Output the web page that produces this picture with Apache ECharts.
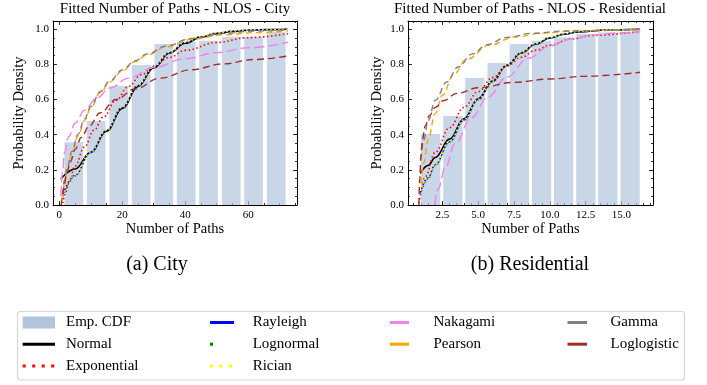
<!DOCTYPE html>
<html>
<head>
<meta charset="utf-8">
<script src="https://cdn.jsdelivr.net/npm/echarts@6/dist/echarts.min.js"></script>
<style>
  html, body { margin: 0; padding: 0; background: #fff; }
  #chart { width: 707px; height: 385px; }
</style>
</head>
<body>
<div id="chart"></div>
<script>
// ---------------- data ----------------
// Empirical CDF (histogram bins) for each environment
const cityBinCenters = [4.6, 11.7, 18.9, 26.0, 33.2, 40.3, 47.4, 54.6, 61.7, 68.9];
const cityEmpCdf     = [0.357, 0.478, 0.677, 0.797, 0.916, 0.928, 0.935, 0.958, 0.958, 0.985];
const resBinCenters  = [1.68, 3.23, 4.77, 6.32, 7.87, 9.42, 10.96, 12.51, 14.05, 15.6];
const resEmpCdf      = [0.404, 0.507, 0.723, 0.808, 0.916, 0.935, 0.955, 0.973, 0.981, 0.986];

// Fitted CDF curves, City  ([number of paths, probability])
const cityNormal = [[0.5,0.148],[5,0.205],[10,0.3],[15,0.42],[20,0.55],[25,0.675],[30,0.78],[35,0.865],[40,0.92],[45,0.955],[50,0.975],[55,0.987],[60,0.994],[65,0.998],[72.6,1.0]];
const cityExponential = [[1.1,0.01],[2,0.07],[3,0.125],[5,0.222],[8,0.33],[11,0.425],[14,0.5],[18,0.595],[22,0.675],[26,0.74],[30,0.79],[35,0.84],[40,0.88],[50,0.925],[60,0.952],[72.6,0.975]];
const cityRayleigh = [[1.2,0.065],[5,0.17],[10,0.3],[15,0.425],[20,0.555],[25,0.68],[30,0.785],[35,0.868],[40,0.925],[45,0.958],[50,0.978],[55,0.99],[60,0.996],[72.6,1.0]];
const cityLognormal = [[1.2,0.05],[5,0.165],[10,0.298],[15,0.423],[20,0.553],[25,0.678],[30,0.783],[35,0.866],[40,0.923],[45,0.956],[50,0.976],[55,0.988],[60,0.994],[72.6,0.999]];
const cityRician = [[1.2,0.075],[5,0.175],[10,0.302],[15,0.427],[20,0.557],[25,0.682],[30,0.787],[35,0.87],[40,0.927],[45,0.96],[50,0.98],[55,0.991],[60,0.997],[72.6,1.0]];
const cityNakagami = [[0.5,0.05],[1.0,0.19],[1.7,0.3],[3,0.39],[5,0.465],[8,0.54],[12,0.61],[16,0.665],[22,0.722],[30,0.782],[40,0.833],[50,0.867],[60,0.895],[72.6,0.926]];
const cityPearson = [[1.0,0.04],[1.6,0.12],[2.5,0.2],[4,0.295],[6,0.395],[8,0.48],[10,0.552],[13,0.64],[16,0.7],[20,0.763],[24,0.815],[28,0.855],[34,0.9],[42,0.943],[52,0.968],[62,0.981],[72.6,0.99]];
const cityGamma = [[1.0,0.06],[1.6,0.14],[2.5,0.215],[4,0.305],[6,0.405],[8,0.49],[10,0.56],[13,0.645],[16,0.705],[20,0.768],[24,0.82],[28,0.86],[34,0.905],[42,0.948],[52,0.975],[62,0.99],[72.6,0.997]];
const cityLoglogistic = [[0.6,0.0],[1.0,0.04],[1.5,0.1],[2.2,0.165],[3.5,0.245],[5,0.315],[7,0.385],[9.5,0.45],[13,0.525],[18,0.6],[24,0.66],[32,0.722],[42,0.77],[52,0.803],[62,0.828],[72.6,0.848]];

// Fitted CDF curves, Residential
const resNormal = [[0.96,0.18],[1.5,0.225],[2,0.27],[3,0.375],[4,0.49],[5,0.605],[6,0.705],[7,0.795],[8,0.865],[9,0.915],[10,0.95],[11,0.972],[12,0.985],[14,0.996],[16.3,1.0]];
const resExponential = [[0.88,0.01],[1.3,0.16],[2,0.3],[3,0.44],[4,0.555],[5,0.645],[6,0.725],[7,0.79],[8,0.84],[9,0.88],[10,0.91],[11.5,0.945],[13,0.965],[16.3,0.988]];
const resRayleigh = [[0.96,0.07],[1.5,0.155],[2,0.23],[3,0.36],[4,0.483],[5,0.6],[6,0.703],[7,0.795],[8,0.867],[9,0.917],[10,0.952],[11,0.974],[12,0.987],[14,0.997],[16.3,1.0]];
const resLognormal = [[0.96,0.06],[1.5,0.148],[2,0.225],[3,0.357],[4,0.48],[5,0.598],[6,0.701],[7,0.793],[8,0.865],[9,0.915],[10,0.951],[11,0.973],[12,0.986],[14,0.996],[16.3,0.999]];
const resRician = [[0.96,0.08],[1.5,0.162],[2,0.235],[3,0.363],[4,0.486],[5,0.602],[6,0.705],[7,0.797],[8,0.869],[9,0.919],[10,0.954],[11,0.975],[12,0.988],[14,0.997],[16.3,1.0]];
const resNakagami = [[1.96,0.0],[2.2,0.09],[2.7,0.215],[3.4,0.35],[4.5,0.495],[5.7,0.615],[7,0.728],[8.5,0.835],[10,0.905],[11.5,0.945],[13,0.967],[14.5,0.978],[16.3,0.986]];
const resPearson = [[1.0,0.12],[1.2,0.24],[1.5,0.37],[2,0.52],[2.5,0.625],[3.3,0.745],[4.2,0.83],[5.8,0.91],[7.5,0.955],[9.5,0.978],[12,0.992],[16.3,1.0]];
const resGamma = [[1.0,0.26],[1.2,0.37],[1.5,0.48],[2,0.595],[2.8,0.7],[3.6,0.785],[4.6,0.86],[5.6,0.912],[7,0.954],[8.8,0.977],[11,0.99],[16.3,0.998]];
const resLoglogistic = [[0.86,0.0],[0.92,0.15],[1.0,0.28],[1.1,0.37],[1.3,0.45],[1.6,0.51],[2,0.555],[2.6,0.595],[3.5,0.635],[5,0.667],[7.5,0.698],[10,0.717],[12.5,0.733],[16.3,0.755]];

// Axis ticks
const cityXTicks = [0, 20, 40, 60];
const cityXMinorTicks = [0, 5, 10, 15, 20, 25, 30, 35, 40, 45, 50, 55, 60, 65, 70, 75];
const resXTicks = [2.5, 5.0, 7.5, 10.0, 12.5, 15.0];
const resXMinorTicks = [0.5, 1, 1.5, 2, 2.5, 3, 3.5, 4, 4.5, 5, 5.5, 6, 6.5, 7, 7.5, 8, 8.5, 9, 9.5, 10, 10.5, 11, 11.5, 12, 12.5, 13, 13.5, 14, 14.5, 15, 15.5, 16, 16.5, 17];
const yTicks = [0, 0.2, 0.4, 0.6, 0.8, 1.0];
const yMinorTicks = [0, 0.05, 0.1, 0.15, 0.2, 0.25, 0.3, 0.35, 0.4, 0.45, 0.5, 0.55, 0.6, 0.65, 0.7, 0.75, 0.8, 0.85, 0.9, 0.95, 1.0];

const fitNames = ['Normal', 'Exponential', 'Rayleigh', 'Lognormal', 'Rician', 'Nakagami', 'Pearson', 'Gamma', 'Loglogistic'];
const cityFits = [cityNormal, cityExponential, cityRayleigh, cityLognormal, cityRician, cityNakagami, cityPearson, cityGamma, cityLoglogistic];
const resFits  = [resNormal, resExponential, resRayleigh, resLognormal, resRician, resNakagami, resPearson, resGamma, resLoglogistic];

// Legend columns (top to bottom)
const legendColumns = [
  ['Emp. CDF', 'Normal', 'Exponential'],
  ['Rayleigh', 'Lognormal', 'Rician'],
  ['Nakagami', 'Pearson'],
  ['Gamma', 'Loglogistic']
];

// ---------------- styling ----------------
const FONT = "'Liberation Serif', 'Times New Roman', serif";
const BAR_COLOR = 'rgba(176,196,222,0.7)';
const fitStyles = {
  Normal:      { color: '#000000', width: 1.6, type: 'solid' },
  Exponential: { color: '#ff0000', width: 1.6, type: [1.5, 2.5] },
  Rayleigh:    { color: '#0000ff', width: 1.5, type: [2, 2] },
  Lognormal:   { color: '#008000', width: 1.4, type: [1, 3] },
  Rician:      { color: '#ffff00', width: 1.6, type: [1.5, 2.5] },
  Nakagami:    { color: '#ee82ee', width: 1.4, type: [10, 4] },
  Pearson:     { color: '#ffa500', width: 1.4, type: [6, 4] },
  Gamma:       { color: '#808080', width: 1.4, type: [6, 4] },
  Loglogistic: { color: '#a52a2a', width: 1.4, type: [7, 4] }
};

const panels = [
  { grid: { left: 53, right: 410, top: 21, bottom: 180 }, xMin: -2, xMax: 75.5,
    xTicks: cityXTicks, xMinor: cityXMinorTicks, xFmt: v => String(v), yNameGap: 26,
    bins: cityBinCenters, emp: cityEmpCdf, barWidth: 18.7, fits: cityFits },
  { grid: { left: 408, right: 54, top: 21, bottom: 180 }, xMin: 0.1, xMax: 17.2,
    xTicks: resXTicks, xMinor: resXMinorTicks, xFmt: v => v.toFixed(1), yNameGap: 23,
    bins: resBinCenters, emp: resEmpCdf, barWidth: 19.3, fits: resFits }
];

const Y_MIN = 0, Y_MAX = 1.047;
const black = '#000';

const xAxes = [], yAxes = [], series = [];

// tick-only axis used for the frame's top/right sides and the minor ticks
function tickAxis(gridIndex, position, min, max, values, len, showLine) {
  return {
    type: 'value', gridIndex, position, min, max,
    axisLine: { show: showLine, onZero: false, lineStyle: { color: black, width: 1 } },
    axisTick: { show: true, inside: true, length: len, customValues: values, lineStyle: { color: black, width: 0.8 } },
    axisLabel: { show: false },
    splitLine: { show: false },
    minorTick: { show: false }
  };
}

panels.forEach((p, g) => {
  const xBase = xAxes.length, yBase = yAxes.length;
  xAxes.push({
    type: 'value', gridIndex: g, position: 'bottom', min: p.xMin, max: p.xMax,
    name: 'Number of Paths', nameLocation: 'middle', nameGap: 17,
    nameTextStyle: { fontFamily: FONT, fontSize: 14.5, color: black },
    axisLine: { show: true, onZero: false, lineStyle: { color: black, width: 1 } },
    axisTick: { show: true, inside: true, length: 4, customValues: p.xTicks, lineStyle: { color: black, width: 0.8 } },
    axisLabel: { show: true, customValues: p.xTicks, margin: 5, color: black, fontFamily: FONT, fontSize: 11, formatter: p.xFmt },
    splitLine: { show: false }
  });
  xAxes.push(tickAxis(g, 'bottom', p.xMin, p.xMax, p.xMinor, 2, false));
  xAxes.push(tickAxis(g, 'top', p.xMin, p.xMax, p.xTicks, 4, true));
  xAxes.push(tickAxis(g, 'top', p.xMin, p.xMax, p.xMinor, 2, false));

  yAxes.push({
    type: 'value', gridIndex: g, position: 'left', min: Y_MIN, max: Y_MAX,
    name: 'Probability Density', nameLocation: 'middle', nameGap: p.yNameGap,
    nameTextStyle: { fontFamily: FONT, fontSize: 14.5, color: black },
    axisLine: { show: true, onZero: false, lineStyle: { color: black, width: 1 } },
    axisTick: { show: true, inside: true, length: 4, customValues: yTicks, lineStyle: { color: black, width: 0.8 } },
    axisLabel: { show: true, customValues: yTicks, margin: 4, color: black, fontFamily: FONT, fontSize: 11, formatter: v => v.toFixed(1) },
    splitLine: { show: false }
  });
  yAxes.push(tickAxis(g, 'left', Y_MIN, Y_MAX, yMinorTicks, 2, false));
  yAxes.push(tickAxis(g, 'right', Y_MIN, Y_MAX, yTicks, 4, true));
  yAxes.push(tickAxis(g, 'right', Y_MIN, Y_MAX, yMinorTicks, 2, false));

  series.push({
    name: 'Emp. CDF', type: 'bar', xAxisIndex: xBase, yAxisIndex: yBase,
    barWidth: p.barWidth, silent: true, z: 1,
    itemStyle: { color: BAR_COLOR },
    data: p.bins.map((c, i) => [c, p.emp[i]])
  });
  fitNames.forEach((name, k) => {
    const st = fitStyles[name];
    series.push({
      name, type: 'line', xAxisIndex: xBase, yAxisIndex: yBase,
      data: p.fits[k], showSymbol: false, symbol: 'none', silent: true,
      smooth: 0.4, smoothMonotone: 'x', z: 3 + k,
      lineStyle: { color: st.color, width: st.width, type: st.type, cap: 'butt' }
    });
  });
});

// ---------------- titles, captions and legend ----------------
const graphics = [];
function text(str, x, y, size, align) {
  graphics.push({ type: 'text', silent: true, z: 50,
    style: { text: str, x, y, fill: black, fontFamily: FONT, fontSize: size, align: align || 'center', verticalAlign: 'middle' } });
}
text('Fitted Number of Paths - NLOS - City', 175, 9, 15);
text('Fitted Number of Paths - NLOS - Residential', 530, 9, 15);
text('(a) City', 157, 265, 20);
text('(b) Residential', 530, 265, 20);

graphics.push({ type: 'rect', silent: true, z: 40,
  shape: { x: 17.5, y: 311.5, width: 667, height: 68.5, r: 3 },
  style: { fill: '#fff', stroke: '#d6d6d6', lineWidth: 1.2 } });

const legendColPos = [
  { x0: 22.7, x1: 55, tx: 66 },
  { x0: 210, x1: 234, tx: 252.7 },
  { x0: 390, x1: 409, tx: 433.5 },
  { x0: 567.5, x1: 587, tx: 610.5 }
];
const legendRowY = [322.5, 344.2, 366];
const legendIcons = {
  'Emp. CDF': 'rect', Normal: 'line', Exponential: 'dots', Rayleigh: 'line', Lognormal: 'dot',
  Rician: 'dots', Nakagami: 'line', Pearson: 'line', Gamma: 'line', Loglogistic: 'line'
};
legendColumns.forEach((names, c) => {
  const col = legendColPos[c];
  names.forEach((name, r) => {
    const y = legendRowY[r];
    const kind = legendIcons[name];
    if (kind === 'rect') {
      graphics.push({ type: 'rect', silent: true, z: 45,
        shape: { x: col.x0, y: y - 6, width: col.x1 - col.x0, height: 12 },
        style: { fill: '#b0c4de' } });
    } else {
      const st = fitStyles[name];
      if (kind === 'line') {
        graphics.push({ type: 'line', silent: true, z: 45,
          shape: { x1: col.x0, y1: y, x2: col.x1, y2: y },
          style: { stroke: st.color, lineWidth: 3 } });
      } else if (kind === 'dots') {
        graphics.push({ type: 'line', silent: true, z: 45,
          shape: { x1: col.x0, y1: y, x2: col.x1, y2: y },
          style: { stroke: st.color, lineWidth: 3, lineDash: [3, 6.5], lineCap: 'butt' } });
      } else {
        graphics.push({ type: 'rect', silent: true, z: 45,
          shape: { x: col.x0, y: y - 1.5, width: 3, height: 3 },
          style: { fill: st.color } });
      }
    }
    text(name, col.tx, y, 15, 'left');
  });
});

const chart = echarts.init(document.getElementById('chart'), null, { renderer: 'canvas' });
chart.setOption({
  animation: false,
  backgroundColor: '#fff',
  grid: panels.map(p => Object.assign({ containLabel: false }, p.grid)),
  xAxis: xAxes,
  yAxis: yAxes,
  series,
  graphic: { elements: graphics }
});
</script>
</body>
</html>
